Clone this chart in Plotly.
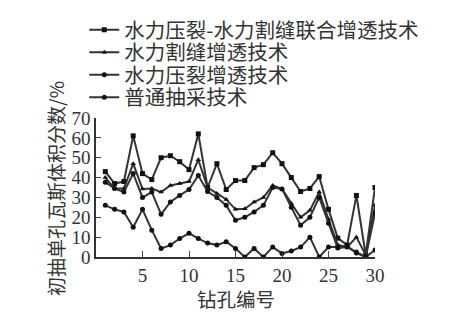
import plotly.graph_objects as go

holes = list(range(1, 31))
names = ["水力压裂-水力割缝联合增透技术", "水力割缝增透技术", "水力压裂增透技术", "普通抽采技术"]
combined = [43, 37, 38, 61, 42, 39, 50, 51, 48, 44, 62, 35, 47, 34, 38.5, 38.5, 45, 46.5, 52.5, 47, 40, 33, 34.5, 40.5, 24, 9.5, 6, 31, 1, 35]
slotting = [40, 34.5, 34.5, 47, 34.3, 34.5, 32.7, 36, 37, 38, 49, 35, 32, 29, 24, 24.3, 27.7, 30, 36, 34.3, 27, 20, 23.5, 32.7, 19, 6, 5, 10, 1, 26]
fracturing = [37.7, 34.5, 32.7, 42, 30, 32.7, 21.5, 27.7, 31, 34, 41, 33, 30, 26, 18.5, 20, 22.7, 26, 35, 34.3, 25, 16, 20, 30, 17, 4.5, 5, 2.5, 0, 22]
ordinary = [26, 24, 22.7, 15, 24, 13.5, 4.3, 6, 9.3, 12, 9.3, 7, 6, 7.7, 4.3, 0, 4.3, 0, 5, 1.8, 3, 5, 10, 0, 5, 5, 5.5, 2, 0, 3.5]
x_ticks = [5, 10, 15, 20, 25, 30]
y_ticks = [0, 10, 20, 30, 40, 50, 60, 70]

series = [combined, slotting, fracturing, ordinary]
symbols = ["square", "triangle-up", "circle", "circle"]
col = "#333333"
cjk = "Noto Sans CJK SC"

fig = go.Figure()
legend_ids = ["legend", "legend2", "legend3", "legend4"]
for nm, ys, sym, lg in zip(names, series, symbols, legend_ids):
    fig.add_trace(go.Scatter(
        x=holes, y=ys, name=nm, mode="lines+markers", legend=lg,
        line=dict(color=col, width=2),
        marker=dict(symbol=sym, size=5, color="#111111"),
    ))

# legend row centres (pixels from top): 30, 52, 75, 98 ; plot spans 117..257
row_px = [30, 52.5, 75, 97.5]
legend_layout = {}
for lg, py in zip(legend_ids, row_px):
    legend_layout[lg] = dict(
        x=-0.042, y=(257 - py) / 140, xanchor="left", yanchor="middle",
        font=dict(family=cjk, size=20.5, color=col),
        itemwidth=30, bgcolor="rgba(0,0,0,0)", borderwidth=0,
    )

fig.update_layout(
    width=450, height=319,
    margin=dict(l=96, r=75, t=117, b=62),
    plot_bgcolor="white", paper_bgcolor="white",
    font=dict(family="Liberation Serif", size=19, color=col),
    showlegend=True,
    xaxis=dict(range=[0, 30], tickvals=x_ticks, ticks="inside", ticklen=6,
               showline=True, linecolor=col, linewidth=1.5, showgrid=False,
               zeroline=False, tickfont=dict(size=19)),
    yaxis=dict(range=[0, 70], tickvals=y_ticks, ticks="inside", ticklen=5,
               showline=True, linecolor=col, linewidth=1.5, showgrid=False,
               zeroline=False, tickfont=dict(size=19)),
    annotations=[
        dict(text="钻孔编号", x=0.5, y=-0.18, xref="paper", yref="paper",
             xanchor="center", yanchor="top", showarrow=False,
             font=dict(family=cjk, size=19.5, color=col)),
        dict(text="初抽单孔瓦斯体积分数/%", x=(56 - 96) / 279, y=0.49, xref="paper", yref="paper",
             xanchor="center", yanchor="middle", showarrow=False, textangle=-90,
             font=dict(family=cjk, size=19, color=col)),
    ],
    **legend_layout,
)

fig.write_html("out.html")
